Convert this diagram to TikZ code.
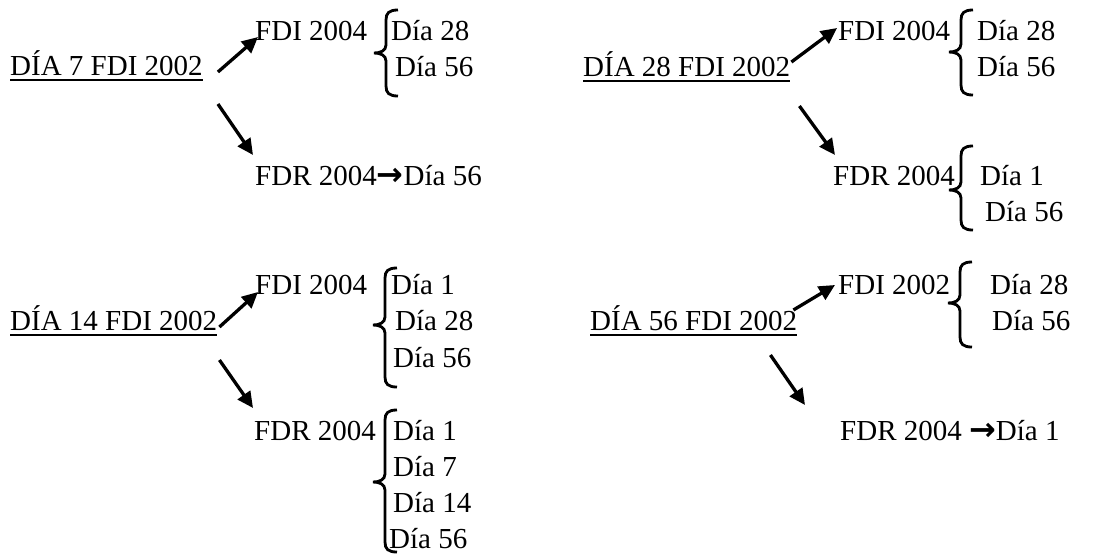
\documentclass[tikz,border=0pt]{standalone}
\usepackage{fontspec}
\setmainfont{Liberation Serif}
\newfontfamily\arrowfont{DejaVu Sans}
\usetikzlibrary{arrows.meta}

% brace: right x, top y, tip y, bottom y (measured downwards)
\newcommand\curly[4]{%
 \draw[brc] (#1,-#2) .. controls ({#1-9},-#2) and ({#1-12},{-#2-3}) .. ({#1-12},{-#2-10})
   -- ({#1-12},{-#3+8}) .. controls ({#1-12},{-#3+2}) and ({#1-18},-#3) .. ({#1-24},-#3)
   .. controls ({#1-18},-#3) and ({#1-12},{-#3-2}) .. ({#1-12},{-#3-8})
   -- ({#1-12},{-#4+10}) .. controls ({#1-12},{-#4+3}) and ({#1-9},-#4) .. (#1,-#4);}
\newcommand\rarr{{\arrowfont\bfseries\fontsize{32}{34}\selectfont →}}

\begin{document}
\begin{tikzpicture}[x=1pt,y=1pt, every node/.style={font=\fontsize{29}{34}\selectfont},
  txt/.style={anchor=base west,inner sep=0pt},
  arr/.style={line width=3.3pt,-{Triangle[length=16pt,width=15pt]}},
  brc/.style={line width=2.8pt},
  uline/.style={line width=2.2pt}]
\useasboundingbox (0,0) rectangle (1099,-555);

% roots
\node[txt] (r1) at (10,-75) {DÍA 7 FDI 2002};
\node[txt] (r2) at (583,-76) {DÍA 28 FDI 2002};
\node[txt] (r3) at (10,-330) {DÍA 14 FDI 2002};
\node[txt] (r4) at (590,-330) {DÍA 56 FDI 2002};
\foreach \r in {r1,r2,r3,r4}
  \draw[uline] ([yshift=-5pt]\r.base west) -- ([yshift=-5pt]\r.base east);

% day 7
\node[txt] (a1) at (255,-40) {FDI 2004};
\node[txt] (a1x) at (391,-40) {Día 28};
\node[txt] (a1y) at (395,-76) {Día 56};
\node[txt] (b1) at (255,-185) {FDR 2004\rarr Día 56};
\curly{398}{10}{53}{96}
\draw[arr] ([shift={(15,3)}]r1.base east) -- ([shift={(3,3)}]a1.base west);
\draw[arr] ([shift={(15,-29)}]r1.base east) -- ([shift={(-2,30)}]b1.base west);

% day 28
\node[txt] (a2) at (838,-40) {FDI 2004};
\node[txt] (a2x) at (977,-40) {Día 28};
\node[txt] (a2y) at (977,-76) {Día 56};
\node[txt] (b2) at (833,-185) {FDR 2004};
\node[txt] (b2x) at (980,-185) {Día 1};
\node[txt] (b2y) at (985,-221) {Día 56};
\curly{973}{10}{52}{95}
\curly{973}{146}{190}{230}
\draw[arr] ([shift={(1,14)}]r2.base east) -- ([shift={(-1,12)}]a2.base west);
\draw[arr] ([shift={(9,-30)}]r2.base east) -- ([shift={(2,30)}]b2.base west);

% day 14
\node[txt] (a3) at (255,-294) {FDI 2004};
\node[txt] (a3x) at (391,-294) {Día 1};
\node[txt] (a3y) at (395,-330) {Día 28};
\node[txt] (a3z) at (393,-367) {Día 56};
\node[txt] (b3) at (254,-440) {FDR 2004};
\node[txt] (b3w) at (393,-440) {Día 1};
\node[txt] (b3x) at (393,-476) {Día 7};
\node[txt] (b3y) at (393,-512) {Día 14};
\node[txt] (b3z) at (389,-548) {Día 56};
\curly{397}{268}{325}{387}
\curly{397}{410}{482}{552}
\draw[arr] ([shift={(2,3)}]r3.base east) -- ([shift={(3,2)}]a3.base west);
\draw[arr] ([shift={(2,-30)}]r3.base east) -- ([shift={(-1,32)}]b3.base west);

% day 56
\node[txt] (a4) at (838,-294) {FDI 2002};
\node[txt] (a4x) at (990,-294) {Día 28};
\node[txt] (a4y) at (992,-330) {Día 56};
\node[txt] (b4) at (840,-440) {FDR 2004 \rarr Día 1};
\curly{972}{262}{303}{347}
\draw[arr] ([shift={(-4,20)}]r4.base east) -- ([shift={(-3,9)}]a4.base west);
\draw[arr] ([shift={(-27,-25)}]r4.base east) -- ([shift={(-35,35)}]b4.base west);
\end{tikzpicture}
\end{document}
